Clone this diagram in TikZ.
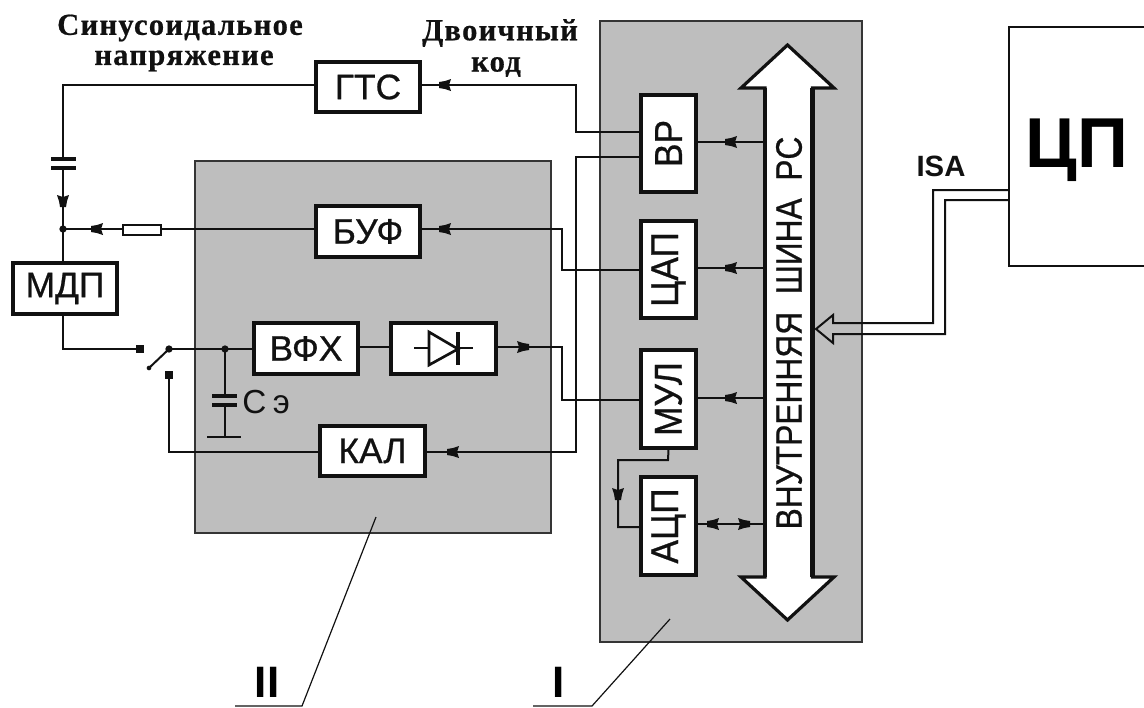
\documentclass[tikz,border=0pt]{standalone}
\usepackage{fontspec}
\setmainfont{Liberation Sans}
\newfontfamily\capfont[LetterSpace=4,BoldFeatures={FakeBold=0.6}]{Liberation Serif}
\newfontfamily\blkfont[FakeBold=0.7]{Liberation Sans}
\definecolor{panel}{HTML}{BEBEBE}
\definecolor{ink}{HTML}{111111}
\tikzset{
  panelbox/.style={draw=ink!85,line width=1.8pt,fill=panel},
  blk/.style={draw=ink,line width=3pt,fill=white,inner sep=0pt,font=\blkfont\fontsize{26.5}{26.5}\selectfont,text=ink},
  hbox/.style={blk,minimum width=78.5pt,minimum height=38pt},
  vbox/.style={blk,minimum width=41pt,minimum height=73pt},
  vtext/.style={rotate=90,inner sep=0pt,font=\blkfont\fontsize{26}{26}\selectfont,text=ink},
  wire/.style={draw=ink,line width=1.5pt},
  thin leader/.style={draw=ink,line width=.9pt},
  cap label/.style={inner sep=0pt,text=ink,font=\capfont\bfseries\fontsize{23}{23}\selectfont},
  pics/tipp/.style={code={\fill[ink] (6,-3)--(6,3)--(0,4)--(-6,6)--(-4,0)--(-6,-6)--(0,-4)--cycle;}},
  dotp/.style={circle,fill=ink,inner sep=0pt,minimum size=5.5pt},
  padp/.style={rectangle,fill=ink,inner sep=0pt,minimum size=5.5pt}
}
\newcommand{\stretchedlabel}[1]{\rotatebox{90}{\scalebox{1}[1.1]{#1}}}
\begin{document}
\begin{tikzpicture}[x=.75pt,y=-.75pt]
\useasboundingbox (0,0) rectangle (1144,707);
% panels
\path[panelbox] (195,161) rectangle (551,533);
\path[panelbox] (600,21) rectangle (862,642);
% CPU
\draw[draw=ink,line width=1.6pt] (1150,27) -- (1009,27) -- (1009,266) -- (1150,266);
\node[font=\bfseries\fontsize{53}{53}\selectfont,inner sep=0pt,text=black] (cp) at (1077,150) {ЦП};
\node[font=\bfseries\fontsize{22}{22}\selectfont,inner sep=0pt,text=ink] (isa) at (941,166) {ISA};
% labels
\node[cap label] (l1) at (180,28) {Синусоидальное};
\node[cap label] (l2) at (184,61) {напряжение};
\node[cap label] (l3) at (500,33) {Двоичный};
\node[cap label] (l4) at (496,67) {код};
% boxes
\node[hbox] (gts) at (368,87) {ГТС};
\node[hbox] (buf) at (368,231.5) {БУФ};
\node[hbox] (mdp) at (65,288.5) {МДП};
\node[hbox] (vfx) at (306,348.5) {ВФХ};
\node[hbox] (dio) at (443.5,348.5) {};
\node[hbox] (kal) at (372.5,451) {КАЛ};
\node[vbox] (vr) at (668.5,143.5) {\stretchedlabel{ВР}};
\node[vbox] (dac) at (668.5,269.5) {\stretchedlabel{ЦАП}};
\node[vbox] (mul) at (668.5,399) {\stretchedlabel{МУЛ}};
\node[vbox] (adc) at (668.5,526) {\stretchedlabel{АЦП}};
% bus
\draw[draw=ink,line width=2.4pt,fill=white,miter limit=4] (787.5,45) -- (834,88) -- (812.5,88) -- (812.5,577) -- (834,577) -- (787.5,620) -- (741,577) -- (765,577) -- (765,88) -- (741,88) -- cycle;
\draw[draw=ink,line width=3.2pt] (765,88) -- (765,577) (812.5,88) -- (812.5,577);
\node[vtext] (bus) at (789,333) {\scalebox{.915}[1.06]{ВНУТРЕННЯЯ\ \ ШИНА\ \ PC}};
\coordinate (busl) at (765,333);
\coordinate (busr) at (812.5,333);
% coordinates
\coordinate (cnode) at (63,229);
\coordinate (capup) at (63,159);
\coordinate (capdn) at (63,168);
\coordinate (sw1) at (140,349);
\coordinate (sw2) at (169,349);
\coordinate (sw3) at (169,375);
\coordinate (swl) at (149,368);
\coordinate (cj) at (225,349);
\coordinate (cetop) at (225,396);
\coordinate (cebot) at (225,405);
\coordinate (gnd) at (225,437);
% wires
\draw[wire] (gts.west |- 0,85) -| (capup);
\draw[wire] (capdn) -- (cnode);
\draw[wire] (cnode) -- (mdp.north -| cnode);
\draw[wire] (gts.east |- 0,85) -- (576,85) -- (576,132) -- (vr.west |- 0,132);
\draw[wire] (buf.east |- 0,229) -- (562,229) -- (562,270) -- (dac.west |- 0,270);
\draw[wire] (buf.west |- 0,229) -- (cnode);
\draw[wire] (mdp.south -| cnode) |- (sw1);
\draw[wire] (sw2) -- (vfx.west |- sw2);
\draw[wire] (vfx.east |- 0,347) -- (dio.west |- 0,347);
\draw[wire] (dio.east |- 0,347) -- (562,347) -- (562,400) -- (mul.west |- 0,400);
\draw[wire] (vr.west |- 0,157) -- (576,157) -- (576,452) -- (kal.east |- 0,452);
\draw[wire] (kal.west |- 0,452) -| (sw3);
\draw[wire] (sw2) -- (swl);
\draw[wire] (cj) -- (cetop);
\draw[wire] (cebot) -- (gnd);
\draw[wire] (207,437) -- (241,437);
\draw[wire] (vr.east |- 0,142) -- (busl |- 0,142);
\draw[wire] (dac.east |- 0,268) -- (busl |- 0,268);
\draw[wire] (mul.east |- 0,398) -- (busl |- 0,398);
\draw[wire] (adc.east |- 0,524) -- (busl |- 0,524);
\draw[wire] (mul.south) -- (668,460) -- (618,460) -- (618,527) -- (adc.west |- 0,527);
% resistor
\draw[wire,fill=white] (123,225) rectangle (161,235);
% capacitors
\draw[draw=ink,line width=2.6pt] (51,159) -- (76,159) (51,168) -- (76,168);
\draw[draw=ink,line width=2.6pt] (212,396) -- (237,396) (212,405) -- (237,405);
\node[dotp] at (cnode) {};
\node[dotp] at (cj) {};
\node[padp] at (sw1) {};
\node[dotp] at (sw2) {};
\node[padp] at (sw3) {};
\node[dotp,minimum size=3.5pt] at (swl) {};
% Ce label
\node[anchor=west,inner sep=0pt,font=\fontsize{25}{25}\selectfont,text=ink] (ce) at (242,402) {С\kern-2pt\ э};
% diode
\draw[wire,line width=2pt] (429,332) -- (458,349) -- (429,365) -- cycle;
\draw[wire,line width=3pt] (458,332) -- (458,365);
\draw[wire,line width=2pt] (414,348) -- (429,348) (458,348) -- (473,348);
% arrow tips
\pic[rotate=180] at (445,85) {tipp};
\pic[rotate=180] at (445,229) {tipp};
\pic[rotate=180] at (97,229) {tipp};
\pic[rotate=-90] at (63,201) {tipp};
\pic at (523,347) {tipp};
\pic[rotate=180] at (453,452) {tipp};
\pic[rotate=180] at (731,142) {tipp};
\pic[rotate=180] at (731,268) {tipp};
\pic[rotate=180] at (731,398) {tipp};
\pic[rotate=180] at (713,524) {tipp};
\pic at (744,524) {tipp};
\pic[rotate=-90] at (618,494) {tipp};
% ISA double line
\draw[wire] (1009,190) -- (933,190) -- (933,323) -- (833,323) -- (833,315) -- (816,329) -- (833,343) -- (833,334) -- (945,334) -- (945,200) -- (1009,200);
% leaders
\node[inner sep=0pt,font=\bfseries\fontsize{33}{33}\selectfont,text=black] (two) at (267,682) {II};
\node[inner sep=0pt,font=\bfseries\fontsize{33}{33}\selectfont,text=black] (one) at (559,682) {I};
\coordinate (u2a) at (235,706);
\coordinate (u2b) at (302,706);
\coordinate (t2) at (376,517);
\coordinate (u1a) at (533,706);
\coordinate (u1b) at (592,706);
\coordinate (t1) at (670,619);
\draw[thin leader] (u2a) -- (u2b) -- (t2);
\draw[thin leader] (u1a) -- (u1b) -- (t1);
\end{tikzpicture}
\end{document}
